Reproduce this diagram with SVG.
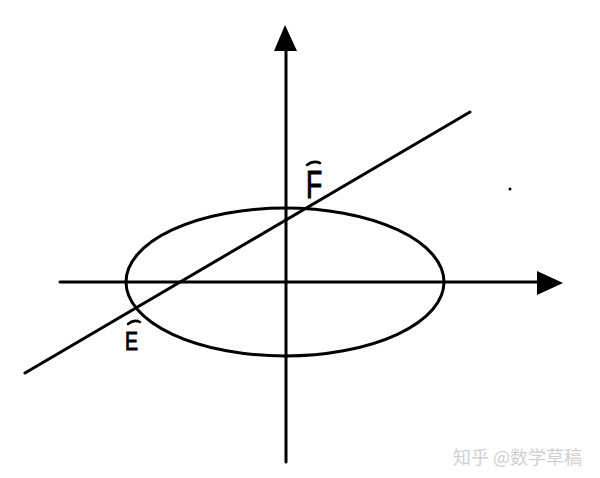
<svg xmlns="http://www.w3.org/2000/svg" width="600" height="478" viewBox="0 0 600 478">
<style>
.ln{stroke:#000;stroke-width:3;fill:none;stroke-linecap:round}
.lbl{font-family:"Liberation Sans",Arial,sans-serif;fill:#000;stroke:#000;stroke-width:1}
.hat{stroke:#000;stroke-width:2.5;fill:none;stroke-linecap:round}
.wm{font-family:"Noto Sans CJK SC","Liberation Sans",sans-serif;font-size:18px;fill:#d0d0d0}
</style>
<rect width="600" height="478" fill="#fff"/>
<g id="axes">
<line class="ln" x1="286" y1="462" x2="286" y2="48"/>
<polygon points="285,25 274,51 297,51" fill="#000"/>
<line class="ln" x1="60" y1="282" x2="540" y2="282"/>
<polygon points="563,283 537,271 537,295" fill="#000"/>
</g>
<g id="ellipse">
<ellipse class="ln" cx="285" cy="282" rx="159" ry="74"/>
</g>
<g id="connectors">
<line class="ln" x1="25" y1="373" x2="470" y2="112"/>
</g>
<g id="label-F">
<path class="hat" d="M307,165 Q313,160 320,163"/>
<text class="lbl" x="306" y="198" font-size="38" transform="translate(306 198) scale(0.7 1) translate(-306 -198)">F</text>
</g>
<g id="label-E">
<path class="hat" d="M128,324 Q134,319 140,322"/>
<text class="lbl" x="125" y="350" font-size="26" transform="translate(125 350) scale(0.75 1) translate(-125 -350)">E</text>
</g>
<circle cx="510" cy="189" r="1.5" fill="#000"/>
<text class="wm" x="453" y="464">知乎 @数学草稿</text>
</svg>
